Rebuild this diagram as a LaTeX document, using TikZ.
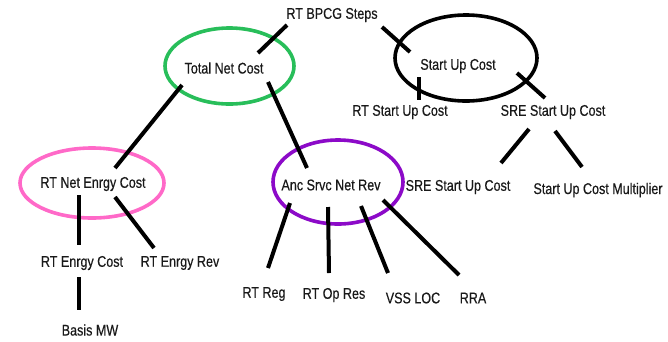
\documentclass[tikz,border=0pt]{standalone}
\usepackage{fontspec}
\setmainfont{Liberation Sans}[FakeStretch=0.81, FakeBold=0.4]
\usetikzlibrary{shapes.geometric,calc}
\definecolor{ringgreen}{RGB}{40,190,90}
\definecolor{ringpink}{RGB}{255,105,200}
\definecolor{ringpurple}{RGB}{140,10,200}
\tikzset{
  lbl/.style={inner sep=0pt, font=\fontsize{15.5}{17}\selectfont, text=black!90},
  ring/.style={ellipse, draw=#1, line width=3.6pt, inner sep=0pt},
  wire/.style={line width=4pt, black},
}
\begin{document}
\begin{tikzpicture}[x=1pt, y=-1pt]
\useasboundingbox (0,0) rectangle (668,341);
\fill[white] (0,0) rectangle (668,341);

% highlighted groups
\node[ring=ringgreen, minimum width=129pt, minimum height=76pt] (tncring) at (229.5,66) {};
\node[ring=black, minimum width=142pt, minimum height=86pt] (sucring) at (466,58) {};
\node[ring=ringpink, minimum width=144pt, minimum height=70pt] (rtnecring) at (92,183) {};
\node[ring=ringpurple, minimum width=130pt, minimum height=84pt] (ancring) at (338,182) {};

% labels
\node[lbl] (bpcg)  at (332,15)  {RT BPCG Steps};
\node[lbl] (tnc)   at (224,68)  {Total Net Cost};
\node[lbl] (suc)   at (458,66)  {Start Up Cost};
\node[lbl] (rtsuc) at (400,112) {RT Start Up Cost};
\node[lbl] (sre1)  at (553,112) {SRE Start Up Cost};
\node[lbl] (rtnec) at (93,184)  {RT Net Enrgy Cost};
\node[lbl] (anc)   at (331,185) {Anc Srvc Net Rev};
\node[lbl] (sre2)  at (458,187) {SRE Start Up Cost};
\node[lbl] (sucm)  at (598,190) {Start Up Cost Multiplier};
\node[lbl] (rtec)  at (82,263)  {RT Enrgy Cost};
\node[lbl] (rter)  at (180,263) {RT Enrgy Rev};
\node[lbl] (basis) at (90,330)  {Basis MW};
\node[lbl] (rtreg) at (264,294) {RT Reg};
\node[lbl] (rtop)  at (334,295) {RT Op Res};
\node[lbl] (vss)   at (413,298) {VSS LOC};
\node[lbl] (rra)   at (473,298) {RRA};

% connectors
\draw[wire] ($(bpcg)+(-45,10)$)  -- ($(tnc)+(34,-15)$);
\draw[wire] ($(bpcg)+(50,12)$)   -- ($(suc)+(-48,-14)$);
\draw[wire] ($(suc)+(-39,11)$)   -- ($(rtsuc)+(19,-12)$);
\draw[wire] ($(suc)+(59,7)$)     -- ($(sre1)+(-8,-14)$);
\draw[wire] ($(tnc)+(-42,17)$)   -- ($(rtnec)+(22,-16)$);
\draw[wire] ($(tnc)+(44,14)$)    -- ($(anc)+(-24,-17)$);
\draw[wire] ($(rtnec)+(-14,11)$) -- ($(rtec)+(-3,-18)$);
\draw[wire] ($(rtnec)+(22,13)$)  -- ($(rter)+(-26,-15)$);
\draw[wire] ($(rtec)+(-3,14)$)   -- ($(basis)+(-11,-20)$);
\draw[wire] ($(anc)+(-41,18)$)   -- ($(rtreg)+(4,-26)$);
\draw[wire] ($(anc)+(-3,22)$)    -- ($(rtop)+(-5,-22)$);
\draw[wire] ($(anc)+(30,21)$)    -- ($(vss)+(-25,-25)$);
\draw[wire] ($(anc)+(52,15)$)    -- ($(rra)+(-14,-23)$);
\draw[wire] ($(sre1)+(-24,17)$)  -- ($(sre2)+(43,-24)$);
\draw[wire] ($(sre1)+(2,19)$)    -- ($(sucm)+(-16,-23)$);
\end{tikzpicture}
\end{document}
